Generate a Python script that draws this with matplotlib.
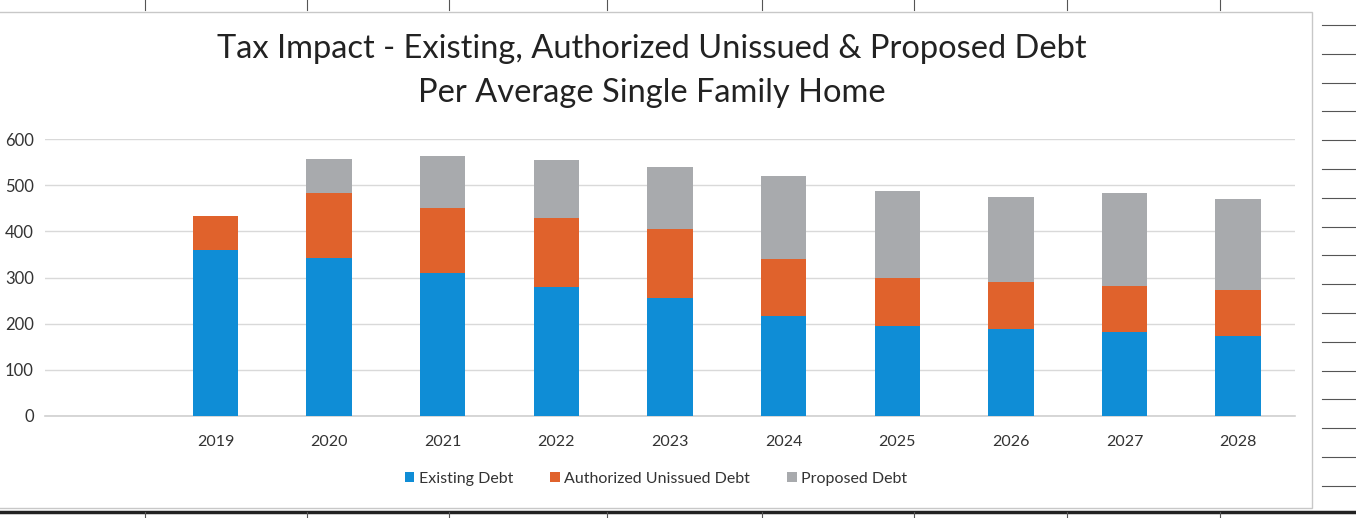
import matplotlib.pyplot as plt
from matplotlib.lines import Line2D
from matplotlib.patches import Rectangle
import numpy as np

years = ['2019', '2020', '2021', '2022', '2023', '2024', '2025', '2026', '2027', '2028']
existing = [360, 343, 309, 280, 255, 217, 196, 189, 181, 174]
authorized = [74, 141, 141, 148, 149, 123, 103, 101, 101, 99]
proposed = [0, 73, 114, 127, 135, 180, 189, 185, 201, 197]
series_names = ['Existing Debt', 'Authorized Unissued Debt', 'Proposed Debt']
yticks = [0, 100, 200, 300, 400, 500, 600]

colors = ['#0f8dd6', '#e0622c', '#a8aaad']

plt.rcParams['font.family'] = ['Lato', 'DejaVu Sans']

W, H = 1356, 518
fig = plt.figure(figsize=(W / 100, H / 100), dpi=100)
fig.patch.set_facecolor('white')

# axes placed in pixel terms
left, right, top, bottom = 45, 1295, 139, 416
ax = fig.add_axes([left / W, 1 - bottom / H, (right - left) / W, (bottom - top) / H])

x = np.arange(len(years))
width = 0.4
base = np.zeros(len(years))
for vals, name, c in zip([existing, authorized, proposed], series_names, colors):
    ax.bar(x, vals, width, bottom=base, color=c, label=name, zorder=3)
    base = base + np.array(vals)

ax.set_xlim(-1.5, len(years) - 0.5)
ax.set_ylim(0, 600)
ax.set_xticks(x)
ax.set_xticklabels(years, fontsize=11.5, color='#333333')
ax.set_yticks(yticks)
ax.set_yticklabels([str(v) for v in yticks], fontsize=12, color='#333333')
ax.tick_params(axis='both', length=0)
ax.tick_params(axis='x', pad=14)
ax.tick_params(axis='y', pad=8)
ax.grid(axis='y', color='#d9d9d9', linewidth=1, zorder=0)
ax.axhline(0, color='#d0d0d0', linewidth=1.2, zorder=2, clip_on=False)
for s in ax.spines.values():
    s.set_visible(False)

fig.text(652 / W, 1 - 49 / H, 'Tax Impact - Existing, Authorized Unissued & Proposed Debt',
         ha='center', va='center', fontsize=23.5, color='#222222')
fig.text(652 / W, 1 - 93 / H, 'Per Average Single Family Home',
         ha='center', va='center', fontsize=23.5, color='#222222')

ax.legend(loc='center', bbox_to_anchor=(656 / W, 1 - 479 / H), bbox_transform=fig.transFigure,
          ncol=3, frameon=False, fontsize=11.5, handlelength=0.6, handleheight=0.6,
          handletextpad=0.3, columnspacing=2.3, labelcolor='#333333')

# chart frame and surrounding spreadsheet cell lines
fig.add_artist(Rectangle((-2 / W, 1 - 508 / H), 1314 / W, 496 / H, transform=fig.transFigure,
                         fill=False, edgecolor='#c8c8c8', linewidth=1))
fig.add_artist(Line2D([0, 1], [1 - 512 / H, 1 - 512 / H], transform=fig.transFigure,
                      color='#222222', linewidth=2.5))
for cx in [145, 307, 449, 607, 762, 914, 1067, 1220]:
    fig.add_artist(Line2D([cx / W, cx / W], [1 - 10 / H, 1], transform=fig.transFigure,
                          color='#555555', linewidth=0.8))
    fig.add_artist(Line2D([cx / W, cx / W], [0, 1 - 512 / H], transform=fig.transFigure,
                          color='#555555', linewidth=0.8))
for cy in np.arange(25, 500, 28.8):
    fig.add_artist(Line2D([1322 / W, 1], [1 - cy / H, 1 - cy / H], transform=fig.transFigure,
                          color='#555555', linewidth=0.8))

fig.savefig('out.png', dpi=100)
